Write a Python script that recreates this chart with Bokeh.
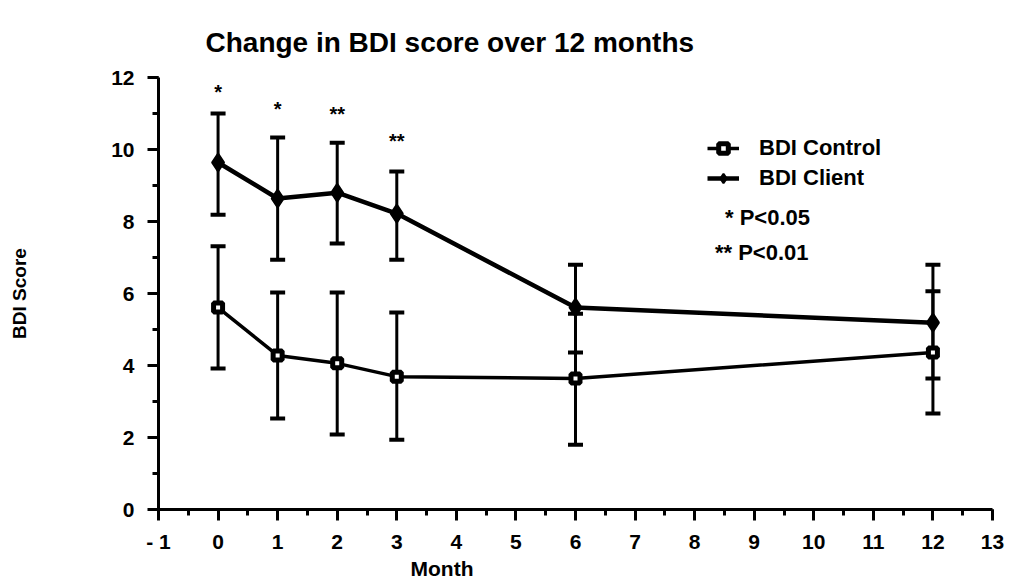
import numpy as np
from bokeh.plotting import figure
from bokeh.models import (ColumnDataSource, Whisker, TeeHead, SingleIntervalTicker,
                          Legend, LegendItem, Label, Title)
from bokeh.core.properties import value
from bokeh.embed import file_html
from bokeh.resources import INLINE

# ---- data ----
months = [0, 1, 2, 3, 6, 12]
control_mean = [5.61, 4.28, 4.06, 3.69, 3.64, 4.36]
control_upper = [7.31, 6.03, 6.03, 5.47, 5.44, 6.06]
control_lower = [3.92, 2.53, 2.08, 1.94, 1.80, 2.67]
client_mean = [9.64, 8.64, 8.80, 8.22, 5.61, 5.19]
client_upper = [11.00, 10.33, 10.19, 9.39, 6.80, 6.80]
client_lower = [8.19, 6.94, 7.39, 6.94, 4.36, 3.64]

sig_months = [0, 1, 2, 3]
sig_y = [11.67, 11.22, 11.08, 10.33]
sig_marks = ["*", "*", "**", "**"]

FONT = "Liberation Sans"

src_ctrl = ColumnDataSource(dict(x=months, y=control_mean, up=control_upper, lo=control_lower))
src_cli = ColumnDataSource(dict(x=months, y=client_mean, up=client_upper, lo=client_lower))
src_sig = ColumnDataSource(dict(x=sig_months, y=sig_y, t=sig_marks))

p = figure(width=1008, height=582, x_range=(-1, 13), y_range=(0, 12),
           output_backend="svg", toolbar_location=None,
           min_border_left=158, min_border_right=16, min_border_top=77, min_border_bottom=73)
p.outline_line_color = None
p.xgrid.visible = False
p.ygrid.visible = False

# title
p.title.text = "Change in BDI score over 12 months"
p.title.text_font = FONT
p.title.text_font_size = "28px"
p.title.text_font_style = "bold"
p.title.text_color = "black"
p.title.align = "left"
p.title.offset = 47
p.title.vertical_align = "top"
p.title.standoff = 36

# axes
for ax in (p.xaxis[0], p.yaxis[0]):
    ax.axis_line_width = 3
    ax.major_tick_line_width = 3
    ax.minor_tick_line_width = 3
    ax.major_tick_out = 11
    ax.major_tick_in = 0
    ax.minor_tick_out = 6
    ax.minor_tick_in = 0
    ax.major_label_text_font = FONT
    ax.major_label_text_font_size = "21px"
    ax.major_label_text_font_style = "bold"
    ax.major_label_text_color = "black"
    ax.axis_line_color = "black"
    ax.major_tick_line_color = "black"
    ax.minor_tick_line_color = "black"

p.xaxis.ticker = SingleIntervalTicker(interval=1, num_minor_ticks=2)
p.yaxis.ticker = SingleIntervalTicker(interval=2, num_minor_ticks=2)
p.xaxis.major_label_overrides = {-1: "- 1"}
p.xaxis.major_label_standoff = 9
p.yaxis.major_label_standoff = 13

p.yaxis.axis_label = "BDI Score"
p.yaxis.axis_label_text_font = FONT
p.yaxis.axis_label_text_font_size = "19px"
p.yaxis.axis_label_text_font_style = "bold"
p.yaxis.axis_label_text_color = "black"
p.yaxis.axis_label_standoff = 78

month_title = Title(text="Month", text_font=FONT, text_font_size="21px",
                    text_font_style="bold", text_color="black", align="left",
                    offset=252, vertical_align="top", standoff=2)
p.add_layout(month_title, "below")

# error bars
for src in (src_ctrl, src_cli):
    w = Whisker(source=src, base="x", upper="up", lower="lo",
                line_width=3, line_color="black",
                upper_head=TeeHead(size=15, line_width=4, line_color="black"),
                lower_head=TeeHead(size=15, line_width=4, line_color="black"))
    p.add_layout(w)

# lines and markers
l_ctrl = p.line("x", "y", source=src_ctrl, line_width=3.5, line_color="black")
m_ctrl = p.scatter("x", "y", source=src_ctrl, marker="square", size=9,
                   fill_color="white", line_color="black", line_width=5)
l_cli = p.line("x", "y", source=src_cli, line_width=4.5, line_color="black")
m_cli = p.scatter("x", "y", source=src_cli, marker="diamond", size=18,
                  fill_color="black", line_color="black", line_width=2)

# significance marks
p.text("x", "y", text="t", source=src_sig, text_font=value(FONT), text_font_size="20px",
       text_font_style="bold", text_color="black", text_align="center",
       text_baseline="middle", y_offset=3)

legend = Legend(items=[LegendItem(label="BDI Control", renderers=[l_ctrl, m_ctrl]),
                       LegendItem(label="BDI Client", renderers=[l_cli, m_cli])],
                location=(549, 318), padding=0, margin=0, spacing=4,
                border_line_alpha=0, background_fill_alpha=0,
                glyph_width=32, glyph_height=24, label_standoff=20,
                label_text_font=FONT, label_text_font_size="22px",
                label_text_font_style="bold", label_text_color="black")
p.add_layout(legend, "center")

p.add_layout(Label(x=8.51, y=8.1, text="* P<0.05", text_font=FONT, text_color="black",
                   text_font_size="22px", text_font_style="bold", text_baseline="middle"))
p.add_layout(Label(x=8.34, y=7.14, text="** P<0.01", text_font=FONT, text_color="black",
                   text_font_size="22px", text_font_style="bold", text_baseline="middle"))

open("out.html", "w").write(file_html(p, INLINE))
